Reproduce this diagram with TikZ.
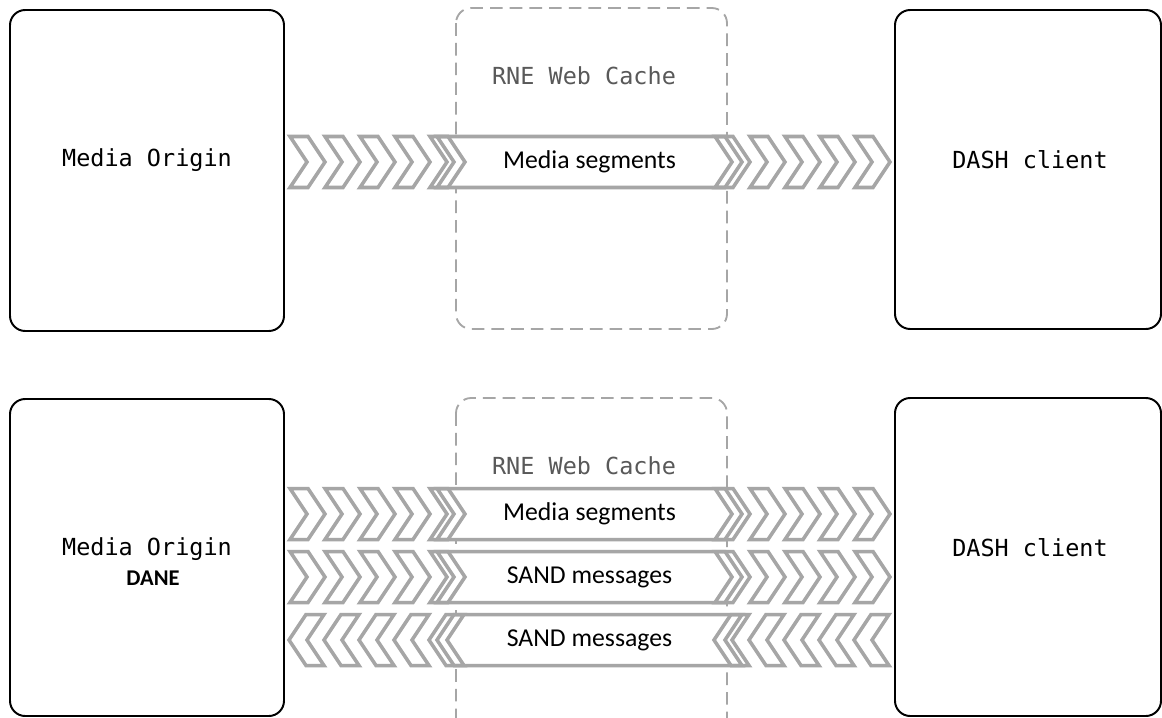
\documentclass[tikz,border=0pt]{standalone}
\usepackage{fontspec}
\setmainfont{Carlito}
\setmonofont{DejaVu Sans Mono}
\definecolor{bandgray}{HTML}{A6A6A6}
\definecolor{cachegray}{HTML}{A6A6A6}
\definecolor{cachetxt}{HTML}{595959}
% one row of chevrons with the labelled arrow in the middle
\newcommand{\bandrow}[3]{%
  \fill[white] (437,#1-25.5) -- (725,#1-25.5) -- (742,#1) -- (725,#1+25.5) -- (437,#1+25.5) -- (454,#1) -- cycle;
  \foreach \cx in {290,325,...,430} \pic[transform shape] at (\cx,#1) {chev};
  \foreach \cx in {715,750,...,855} \pic[transform shape] at (\cx,#1) {chev};
  \draw[band, fill=none] (437,#1-25.5) -- (725,#1-25.5) -- (742,#1) -- (725,#1+25.5) -- (437,#1+25.5) -- (454,#1) -- cycle;
  \node[bandtext] (#3) at (589.5,#1) {#2};
}

\begin{document}
\begin{tikzpicture}[x=0.025cm, y=-0.025cm]
  \tikzset{
    box/.style={draw=black, line width=1.4pt, rounded corners=0.38cm},
    cache/.style={draw=cachegray, line width=1.3pt, dash pattern=on 9pt off 5pt, rounded corners=0.38cm},
    band/.style={draw=bandgray, line width=2.5pt, fill=white, line join=miter},
    boxtext/.style={font=\fontsize{16.7}{20}\selectfont\ttfamily},
    cachetext/.style={boxtext, text=cachetxt},
    bandtext/.style={font=\fontsize{18.3}{22}\selectfont},
    danetext/.style={font=\fontsize{16}{19}\selectfont\bfseries},
    chev/.pic={\path[band] (0,-25.5) -- (18,-25.5) -- (35,0) -- (18,25.5) -- (0,25.5) -- (17,0) -- cycle;}
  }
  \path[fill=white, use as bounding box] (0,0) rectangle (1162,717);

  % top: plain delivery
  \draw[box] (10,10) rectangle (284,331);
  \draw[cache] (456,8) rectangle (727,329);
  \draw[box] (895,10) rectangle (1161,329);
  \node[boxtext] (orgAtxt) at (147,160) {Media Origin};
  \node[cachetext] (cacheAtxt) at (584,76) {RNE Web Cache};
  \node[boxtext] (dashAtxt) at (1030,160) {DASH client};
  \bandrow{162}{Media segments}{segA}

  % bottom: with DANE and SAND messages
  \draw[box] (10,399) rectangle (284,716);
  \draw[cache] (456,398) rectangle (727,745);
  \draw[box] (895,398) rectangle (1161,716);
  \node[boxtext] (orgBtxt) at (147,549) {Media Origin};
  \node[danetext] (daneTxt) at (153,578) {DANE};
  \node[cachetext] (cacheBtxt) at (584,466) {RNE Web Cache};
  \node[boxtext] (dashBtxt) at (1030,548) {DASH client};
  \bandrow{514}{Media segments}{segB}
  \bandrow{577}{SAND messages}{sandR}
  \begin{scope}[shift={(1179,0)}, xscale=-1]
    \bandrow{640}{SAND messages}{sandL}
  \end{scope}
\end{tikzpicture}
\end{document}
